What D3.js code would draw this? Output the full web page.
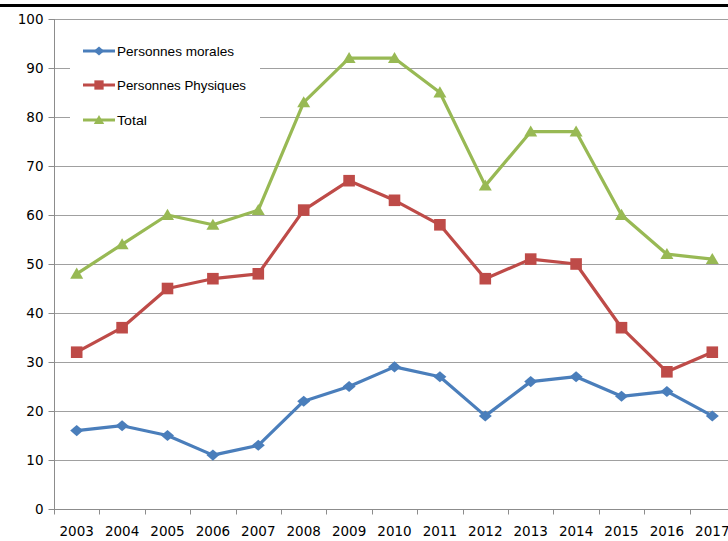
<!DOCTYPE html>
<html><head><meta charset="utf-8">
<script src="https://cdn.jsdelivr.net/npm/d3@7"></script>
<style>body{margin:0;background:#fff}svg{display:block}</style>
</head><body>
<script>
const years = ["2003","2004","2005","2006","2007","2008","2009","2010","2011","2012","2013","2014","2015","2016","2017"];
const morales   = [16,17,15,11,13,22,25,29,27,19,26,27,23,24,19];
const physiques = [32,37,45,47,48,61,67,63,58,47,51,50,37,28,32];
const total     = [48,54,60,58,61,83,92,92,85,66,77,77,60,52,51];
const seriesNames = ["Personnes morales","Personnes Physiques","Total"];
const yTicks = [0,10,20,30,40,50,60,70,80,90,100];

const W=728,H=541;
const svg=d3.select("body").append("svg").attr("width",W).attr("height",H);
const plotLeft=54, bw=45.4, plotTop=19, plotBottom=509;
const x=d3.scaleBand().domain(years).range([plotLeft,plotLeft+bw*years.length]);
const y=d3.scaleLinear().domain([0,100]).range([plotBottom,plotTop]);

// top black rule
svg.append("rect").attr("x",0).attr("y",4).attr("width",W).attr("height",3).attr("fill","#000");

// gridlines
svg.append("g").selectAll("line").data(yTicks.filter(d=>d>0)).join("line")
  .attr("x1",plotLeft).attr("x2",W).attr("y1",d=>Math.round(y(d))+0.5).attr("y2",d=>Math.round(y(d))+0.5)
  .attr("stroke","#a0a0a0").attr("stroke-width",1.2);

// y axis
const ya=svg.append("g").attr("transform",`translate(${plotLeft+0.5},0)`)
  .call(d3.axisLeft(y).tickValues(yTicks).tickSize(6).tickPadding(5));
ya.selectAll("path,line").attr("stroke","#8c8c8c");
ya.select(".domain").attr("d",`M0,${y(100)}V${y(0)}`);
ya.selectAll("text").attr("font-family","DejaVu Sans").attr("font-size","13.5px").attr("fill","#000");

// x axis
const xa=svg.append("g").attr("transform",`translate(0,${plotBottom+0.5})`);
xa.append("line").attr("x1",plotLeft).attr("x2",W).attr("stroke","#8c8c8c");
xa.selectAll("line.t").data(years.concat(["end"])).join("line").attr("class","t")
  .attr("x1",(d,i)=>Math.round(plotLeft+bw*i)+0.5).attr("x2",(d,i)=>Math.round(plotLeft+bw*i)+0.5)
  .attr("y1",0).attr("y2",5).attr("stroke","#8c8c8c");
xa.selectAll("text").data(years).join("text")
  .attr("x",d=>x(d)+x.bandwidth()/2).attr("y",26).attr("text-anchor","middle")
  .attr("font-family","DejaVu Sans").attr("font-size","13.5px").text(d=>d);

const data=[morales,physiques,total];
const colors=["#4a7ebb","#be4b48","#98b954"];
const cx=d=>x(d)+x.bandwidth()/2;
const line=d3.line().x((v,i)=>cx(years[i])).y(v=>y(v));

// custom marker shapes (size param = half-width)
const diamond={draw(c,s){c.moveTo(-s,0);c.lineTo(0,-s*0.85);c.lineTo(s,0);c.lineTo(0,s*0.85);c.closePath();}};
const square={draw(c,s){c.rect(-s,-s,2*s,2*s);}};
const triangle={draw(c,s){c.moveTo(-s,s*0.75);c.lineTo(0,-s*0.95);c.lineTo(s,s*0.75);c.closePath();}};
const sym=[diamond,square,triangle];
const symSize=[6.5,5.8,6.5];

data.forEach((s,k)=>{
  svg.append("path").datum(s).attr("d",line).attr("fill","none")
    .attr("stroke",colors[k]).attr("stroke-width",3.2).attr("stroke-linejoin","round");
  svg.append("g").selectAll("path").data(s).join("path")
    .attr("transform",(v,i)=>`translate(${cx(years[i])},${y(v)})`)
    .attr("d",d3.symbol().type(sym[k]).size(symSize[k])).attr("fill",colors[k]);
});

// legend
const lg=svg.append("g");
lg.append("rect").attr("x",70).attr("y",30).attr("width",190).attr("height",105).attr("fill","#fff");
const ly=[51,85,120];
const tl=[117,129,30];
seriesNames.forEach((n,k)=>{
  lg.append("line").attr("x1",83).attr("x2",115).attr("y1",ly[k]).attr("y2",ly[k])
    .attr("stroke",colors[k]).attr("stroke-width",3);
  lg.append("path").attr("transform",`translate(99,${ly[k]})`)
    .attr("d",d3.symbol().type(sym[k]).size(symSize[k]*0.8)).attr("fill",colors[k]);
  lg.append("text").attr("x",117).attr("y",ly[k]+5).attr("font-family","Liberation Sans, Arial, sans-serif")
    .attr("font-size","13px").attr("textLength",tl[k]).attr("lengthAdjust","spacingAndGlyphs")
    .attr("fill","#000").text(n);
});
</script>
</body></html>
